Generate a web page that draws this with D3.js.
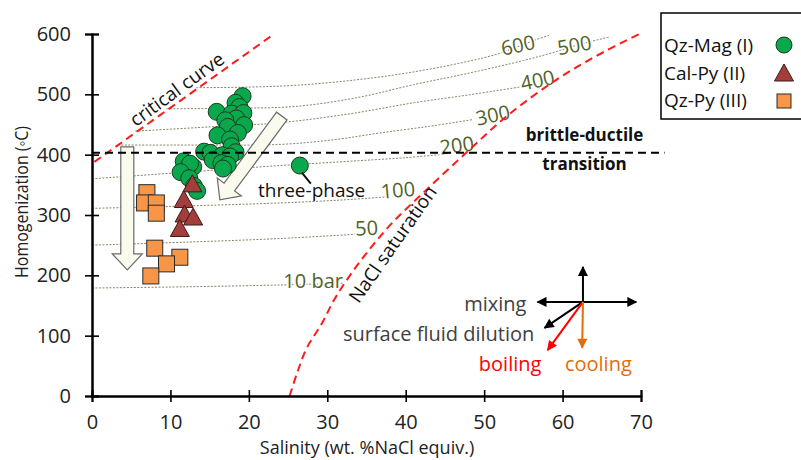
<!DOCTYPE html>
<html><head><meta charset="utf-8">
<script src="https://cdn.jsdelivr.net/npm/d3@7"></script>
<style>body{margin:0;background:#fff} svg{display:block} text{font-family:'Open Sans',sans-serif}</style>
</head><body><svg id="c" width="801" height="460"></svg>
<script>
// ---------- data ----------
const xTicks=[0,10,20,30,40,50,60,70];
const yTicks=[0,100,200,300,400,500,600];
const qzMag=[[19.2,497],[18.3,486],[15.9,471],[18.8,479],[17.8,468],[19.3,469],[18.4,460],[17.0,457],[19.4,449],[17.3,446],[16.0,432],[18.6,436],[17.6,425],[17.8,414],[18.3,404],[14.3,405],[15.1,403],[16.6,399],[17.6,397],[15.4,391],[16.5,386],[17.3,383],[16.7,377],[11.7,389],[12.9,380],[12.5,385],[11.3,371],[12.4,361],[13.0,348],[13.4,340]];
const threePhase=[[26.5,382]];
const calPy=[[12.8,350],[11.7,324],[11.8,300],[12.9,295],[11.2,276]];
const qzPy=[[7.0,337],[6.7,320],[8.2,320],[8.2,303],[8.0,245],[11.2,230],[9.5,219],[7.5,199]];
const criticalCurve=[[0.3,388],[23,598]];
const naclSat=[[25.2,0],[26.2,40],[27.4,80],[29.3,120],[30.9,160],[32.9,200],[35.5,245],[38.5,290],[42.5,340],[47.7,403],[53,465],[59.2,524],[64.5,565],[69.8,600]];
const brittleDuctile=[[0,403],[73,403]];
const iso600=[[13.3,511],[20,512],[26,515],[33,523],[40,535],[47,552],[52,568],[56.5,590],[58.3,598]];
const iso500=[[9.5,476],[18,477],[26,480],[34,495],[41,516],[48,535],[55,556],[58.7,569],[62.5,584],[66,595]];
const iso400=[[5.5,439],[15,446],[24,453],[33,468],[41,486],[48,499],[54.5,512]];
const iso300=[[3.3,416],[14,416],[24,417],[31,425],[36.7,436],[43,447],[48.5,458]];
const iso200=[[0,360],[12,371],[24,382],[34,390],[40,395],[44.3,400]];
const iso100=[[0,311],[12,315],[24,320],[32,325],[37.5,330]];
const iso50=[[0,250],[12,255],[24,261],[33.5,268]];
const iso10=[[0,179],[12,181],[24,184],[32,187]];
const isobarLines=[iso600,iso500,iso400,iso300,iso200,iso100,iso50,iso10];
const isobarLabels=["600","500","400","300","200","100","50","10 bar"];
const isobarLabelPos=[[54.3,582,-12],[61.5,582,-10],[56.8,524,-12],[51.1,466,-12],[46.5,416,-8],[39.0,342,-5],[35.0,279,-3],[28.2,191,0]];
const trendArrowV=[[4.5,413],[4.5,209]];
const trendArrowD=[[24.2,464],[16.3,325]];
const seriesNames=["Qz-Mag (I)","Cal-Py (II)","Qz-Py (III)"];
// mixing diagram vectors: [end salinity, end temperature], centre
const vecCentre=[62.6,156];
const vecBlack=[[62.6,214],[56.8,156],[69.4,156],[57.7,113]];
const vecBoiling=[58.1,76];
const vecCooling=[62.5,80];

// ---------- chart ----------
const svg=d3.select("#c");
const x=d3.scaleLinear().domain([0,70]).range([92,641]);
const y=d3.scaleLinear().domain([0,600]).range([396,34]);
const line=d3.line().x(d=>x(d[0])).y(d=>y(d[1]));
const curve=d3.line().x(d=>x(d[0])).y(d=>y(d[1])).curve(d3.curveCatmullRom);

const defs=svg.append("defs");
function mk(id,col){
  defs.append("marker").attr("id",id).attr("viewBox","0 0 10 10").attr("refX",9).attr("refY",5)
   .attr("markerWidth",11).attr("markerHeight",10).attr("markerUnits","userSpaceOnUse").attr("orient","auto")
   .append("path").attr("d","M0,0L10,5L0,10Z").attr("fill",col);
}
mk("ab","#000");mk("ar","#ff0000");mk("ao","#e46c0a");

// isobars
svg.append("g").selectAll("path").data(isobarLines).join("path")
  .attr("d",d=>curve(d)).attr("fill","none").attr("stroke","#858565").attr("stroke-width",1).attr("stroke-dasharray","2,1.5");
svg.append("g").selectAll("text").data(isobarLabels).join("text")
  .attr("transform",(d,i)=>`translate(${x(isobarLabelPos[i][0])},${y(isobarLabelPos[i][1])}) rotate(${isobarLabelPos[i][2]})`)
  .attr("text-anchor","middle").attr("dominant-baseline","central")
  .attr("font-size",20).attr("fill","#4f6228")
  .attr("stroke","#fff").attr("stroke-width",3).attr("paint-order","stroke")
  .text(d=>d);

// red curves
svg.append("path").attr("d",line(criticalCurve)).attr("fill","none").attr("stroke","#ff1a1a").attr("stroke-width",2).attr("stroke-dasharray","8,5");
svg.append("path").attr("d",curve(naclSat)).attr("fill","none").attr("stroke","#ff1a1a").attr("stroke-width",2).attr("stroke-dasharray","8,5");

// block arrows
function blockArrow(p){
  const x1=x(p[0][0]),y1=y(p[0][1]),x2=x(p[1][0]),y2=y(p[1][1]);
  const dx=x2-x1,dy=y2-y1,L=Math.hypot(dx,dy),ux=dx/L,uy=dy/L,nx=-uy,ny=ux;
  const sw=6.5,hw=15,hl=16;
  const bx=x2-ux*hl,by=y2-uy*hl;
  const pts=[[x1+nx*sw,y1+ny*sw],[bx+nx*sw,by+ny*sw],[bx+nx*hw,by+ny*hw],[x2,y2],[bx-nx*hw,by-ny*hw],[bx-nx*sw,by-ny*sw],[x1-nx*sw,y1-ny*sw]];
  return "M"+pts.map(q=>q.join(",")).join("L")+"Z";
}
svg.append("g").selectAll("path").data([trendArrowV,trendArrowD]).join("path")
  .attr("d",blockArrow).attr("fill","#fbfbed").attr("stroke","#6a6a6a").attr("stroke-width",1.2);

// points
svg.append("g").selectAll("circle").data(qzMag.concat(threePhase)).join("circle")
  .attr("cx",d=>x(d[0])).attr("cy",d=>y(d[1])).attr("r",8.5)
  .attr("fill","#0aa84c").attr("stroke","#1d3b22").attr("stroke-width",1);
svg.append("line").attr("x1",x(threePhase[0][0])+2).attr("y1",y(threePhase[0][1])+7)
  .attr("x2",x(27.9)).attr("y2",y(352)).attr("stroke","#111").attr("stroke-width",2);
svg.append("g").selectAll("path").data(calPy).join("path")
  .attr("transform",d=>`translate(${x(d[0])},${y(d[1])})`)
  .attr("d","M0,-10L9.5,7L-9.5,7Z").attr("fill","#a33e3c").attr("stroke","#3d1a1a").attr("stroke-width",1);
svg.append("g").selectAll("rect").data(qzPy).join("rect")
  .attr("x",d=>x(d[0])-8).attr("y",d=>y(d[1])-8).attr("width",16).attr("height",16)
  .attr("fill","#f79646").attr("stroke","#2a2a2a").attr("stroke-width",1);

// brittle-ductile
svg.append("path").attr("d",line(brittleDuctile)).attr("stroke","#000").attr("stroke-width",2).attr("stroke-dasharray","8,5").attr("fill","none");

// axes
const gx=svg.append("g").attr("transform","translate(0,396)");
gx.call(d3.axisBottom(x).tickValues(d3.range(0,71,2)).tickSize(6).tickFormat(""));
gx.call(d3.axisTop(x).tickValues(xTicks).tickSize(6).tickFormat(""));
const gx2=svg.append("g").attr("transform","translate(0,396)")
  .call(d3.axisBottom(x).tickValues(xTicks).tickSize(6).tickPadding(13));
const gy=svg.append("g").attr("transform","translate(92,0)");
gy.call(d3.axisLeft(y).tickValues(d3.range(0,601,20)).tickSize(5).tickFormat(""));
gy.call(d3.axisRight(y).tickValues(yTicks).tickSize(7).tickFormat(""));
const gy2=svg.append("g").attr("transform","translate(92,0)")
  .call(d3.axisLeft(y).tickValues(yTicks).tickSize(7).tickPadding(14));
svg.selectAll(".domain").attr("stroke","#000").attr("stroke-width",2);
svg.selectAll(".tick line").attr("stroke","#000").attr("stroke-width",1.6);
gx2.selectAll("text").attr("font-size",20).attr("fill","#222").attr("font-family","'Open Sans',sans-serif");
gy2.selectAll("text").attr("font-size",20).attr("fill","#222").attr("font-family","'Open Sans',sans-serif");

// axis titles
svg.append("text").attr("x",367).attr("y",454).attr("text-anchor","middle").attr("font-size",18).attr("fill","#222").text("Salinity (wt. %NaCl equiv.)");
svg.append("text").attr("transform","translate(28,202) rotate(-90)").attr("text-anchor","middle").attr("font-size",18)
  .attr("textLength",152).attr("lengthAdjust","spacingAndGlyphs").attr("fill","#222").text("Homogenization (\u25E6C)");

// annotations
svg.append("text").attr("transform",`translate(${x(10.8)},${y(509)}) rotate(-36)`).attr("text-anchor","middle").attr("dominant-baseline","central").attr("font-size",19).attr("fill","#111").text("critical curve");
svg.append("text").attr("transform",`translate(${x(38.3)},${y(252)}) rotate(-55)`).attr("text-anchor","middle").attr("dominant-baseline","central").attr("font-size",19).attr("fill","#111").text("NaCl saturation");
svg.append("text").attr("x",x(28.0)).attr("y",y(330)).attr("text-anchor","middle").attr("font-size",19).attr("fill","#111").text("three-phase");
svg.append("text").attr("x",x(62.8)).attr("y",y(423)).attr("text-anchor","middle").attr("font-size",17).attr("font-weight","bold").attr("fill","#111").text("brittle-ductile");
svg.append("text").attr("x",x(62.8)).attr("y",y(375)).attr("text-anchor","middle").attr("font-size",17).attr("font-weight","bold").attr("fill","#111").text("transition");

// mixing vectors
svg.append("g").selectAll("line").data(vecBlack).join("line")
  .attr("x1",x(vecCentre[0])).attr("y1",y(vecCentre[1])).attr("x2",d=>x(d[0])).attr("y2",d=>y(d[1]))
  .attr("stroke","#000").attr("stroke-width",2).attr("marker-end","url(#ab)");
svg.append("line").attr("x1",x(vecCentre[0])).attr("y1",y(vecCentre[1])).attr("x2",x(vecBoiling[0])).attr("y2",y(vecBoiling[1]))
  .attr("stroke","#ff0000").attr("stroke-width",2).attr("marker-end","url(#ar)");
svg.append("line").attr("x1",x(vecCentre[0])).attr("y1",y(vecCentre[1])).attr("x2",x(vecCooling[0])).attr("y2",y(vecCooling[1]))
  .attr("stroke","#e46c0a").attr("stroke-width",2).attr("marker-end","url(#ao)");
svg.append("text").attr("x",x(55.4)).attr("y",y(141)).attr("text-anchor","end").attr("font-size",20).attr("fill","#404040").text("mixing");
svg.append("text").attr("x",x(56.4)).attr("y",y(91)).attr("text-anchor","end").attr("font-size",20).attr("fill","#404040").text("surface fluid dilution");
svg.append("text").attr("x",x(57.3)).attr("y",y(41)).attr("text-anchor","end").attr("font-size",20).attr("fill","#ff0000").text("boiling");
svg.append("text").attr("x",x(60.3)).attr("y",y(41)).attr("text-anchor","start").attr("font-size",20).attr("fill","#e46c0a").text("cooling");

// legend
const lg=svg.append("g");
lg.append("rect").attr("x",661).attr("y",13).attr("width",150).attr("height",106).attr("fill","#fff").attr("stroke","#000").attr("stroke-width",1.5);
lg.selectAll("text").data(seriesNames).join("text").attr("x",664).attr("y",(d,i)=>52+i*27.5)
  .attr("font-size",19).attr("fill","#111").text(d=>d);
lg.append("circle").attr("cx",784).attr("cy",45).attr("r",8).attr("fill","#0aa84c").attr("stroke","#1d3b22");
lg.append("path").attr("transform","translate(784,74)").attr("d","M0,-10L9.5,7L-9.5,7Z").attr("fill","#a33e3c").attr("stroke","#3d1a1a");
lg.append("rect").attr("x",777).attr("y",94).attr("width",14).attr("height",14).attr("fill","#f79646").attr("stroke","#2a2a2a");
</script></body></html>
